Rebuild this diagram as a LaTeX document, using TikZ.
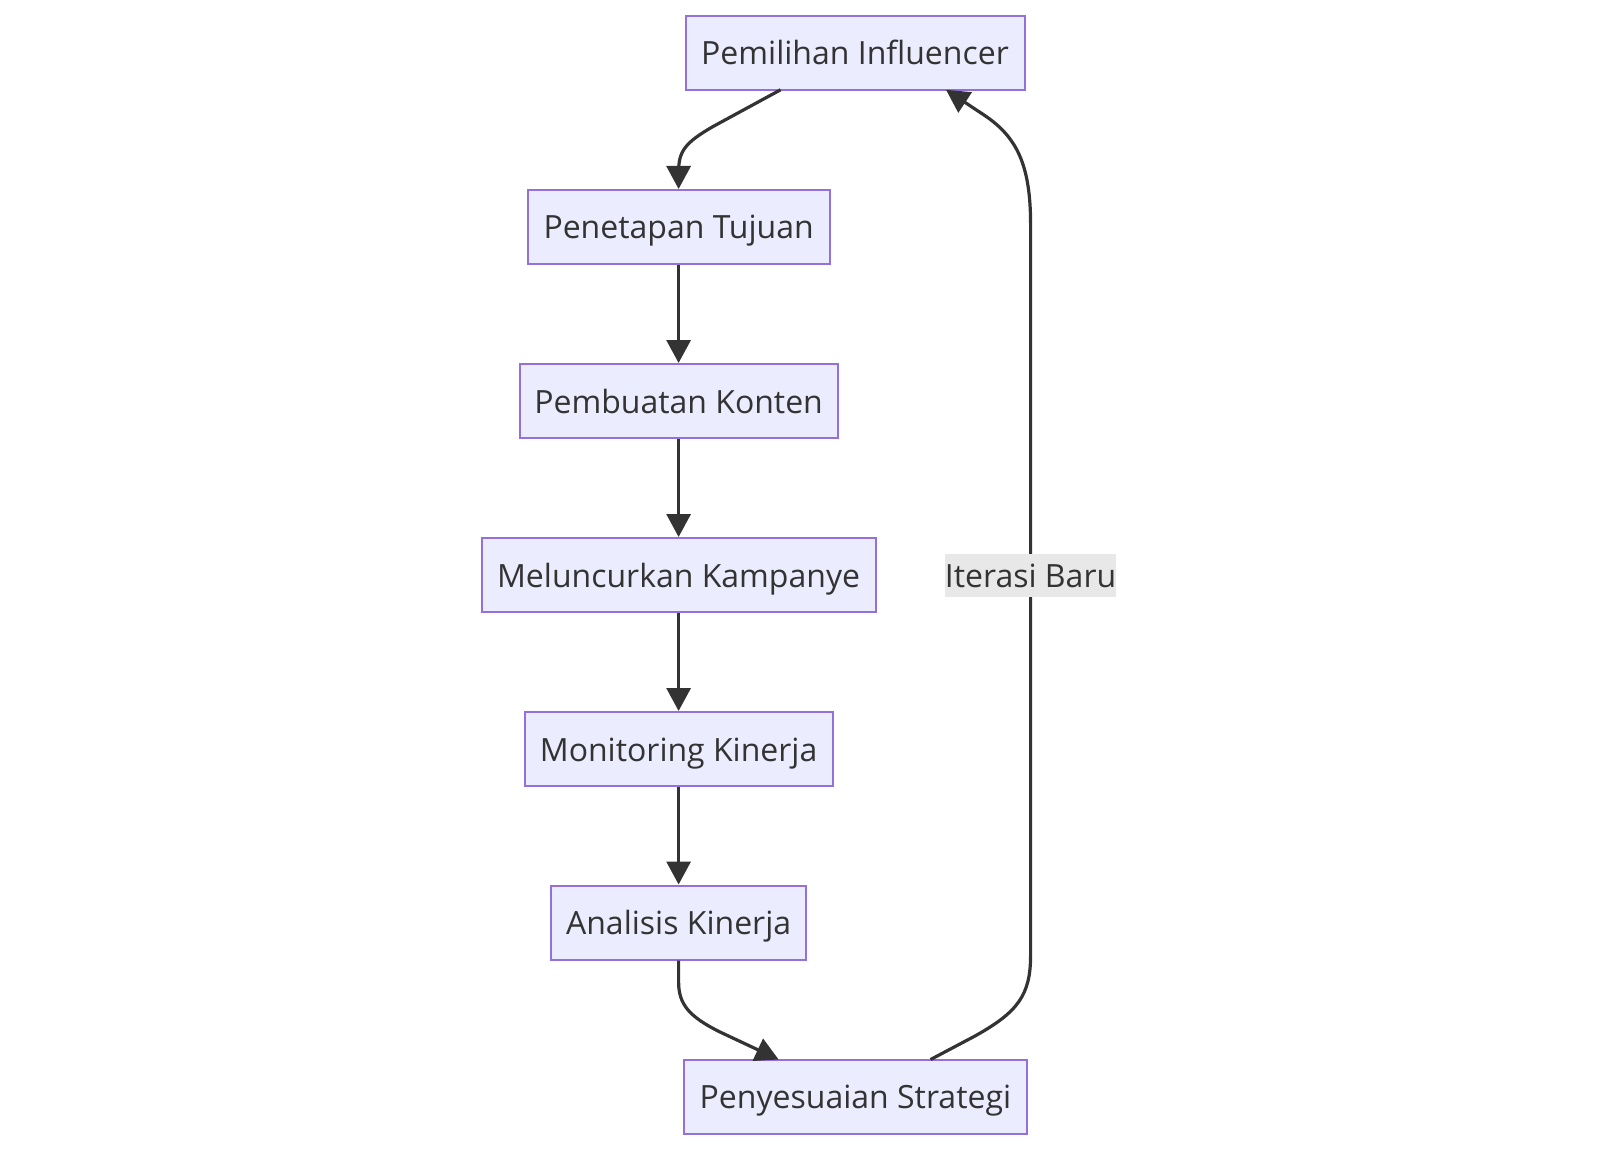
\documentclass[tikz,border=0pt]{standalone}
\usepackage{fontspec}
\setmainfont{Open Sans}
\usetikzlibrary{arrows.meta}
\definecolor{nodefill}{HTML}{ECECFF}
\definecolor{nodeborder}{HTML}{9370DB}
\definecolor{txt}{HTML}{333333}
\definecolor{edge}{HTML}{333333}
\definecolor{lblbg}{HTML}{E8E8E8}
\tikzset{
  box/.style={draw=nodeborder, fill=nodefill, line width=2pt, minimum height=74pt,
    inner sep=0pt, text=txt, font=\fontsize{32}{38}\selectfont,
    text height=24pt, text depth=0pt},
  conn/.style={draw=edge, line width=3.2pt, -{Triangle[length=23pt,width=24pt]}},
  lbl/.style={fill=lblbg, text=txt, inner xsep=0pt, inner ysep=0pt, minimum height=43pt,
    font=\fontsize{32}{38}\selectfont, text height=24pt, text depth=0pt}
}
\begin{document}
\begin{tikzpicture}[x=1pt,y=-1pt]
\useasboundingbox (0,0) rectangle (1600,1150);
\node[box, minimum width=339pt] (p1) at (855,53) {Pemilihan Influencer};
\node[box, minimum width=302pt] (p2) at (678.6,227) {Penetapan Tujuan};
\node[box, minimum width=318pt] (p3) at (678.6,401) {Pembuatan Konten};
\node[box, minimum width=394pt] (p4) at (678.6,575) {Meluncurkan Kampanye};
\node[box, minimum width=308pt] (p5) at (678.6,749) {Monitoring Kinerja};
\node[box, minimum width=255pt] (p6) at (678.6,922.5) {Analisis Kinerja};
\node[box, minimum width=343pt] (p7) at (855.4,1096.5) {Penyesuaian Strategi};

\coordinate (s1) at (780.6,89.8);
\coordinate (s7) at (930.6,1059.5);
\coordinate (e1) at (946,89.8);
\coordinate (e7) at (778.6,1059.5);

\draw[conn] (s1) -- (714,126) .. controls (684,143) and (678.6,152) .. (678.6,172) -- (p2.north);
\draw[conn] (p2) -- (p3);
\draw[conn] (p3) -- (p4);
\draw[conn] (p4) -- (p5);
\draw[conn] (p5) -- (p6);
\draw[conn] (p6.south) -- (678.6,982) .. controls (678.6,1005) and (690,1017) .. (720,1032) -- (e7);
\draw[conn] (s7) -- (975,1036) .. controls (1018,1012) and (1030.6,995) .. (1030.6,955)
  -- (1030.6,225) .. controls (1030.6,165) and (1017,137) .. (984,115) -- (e1);
\node[lbl] (l1) at (1030.6,575.5) {Iterasi Baru};
\end{tikzpicture}
\end{document}
